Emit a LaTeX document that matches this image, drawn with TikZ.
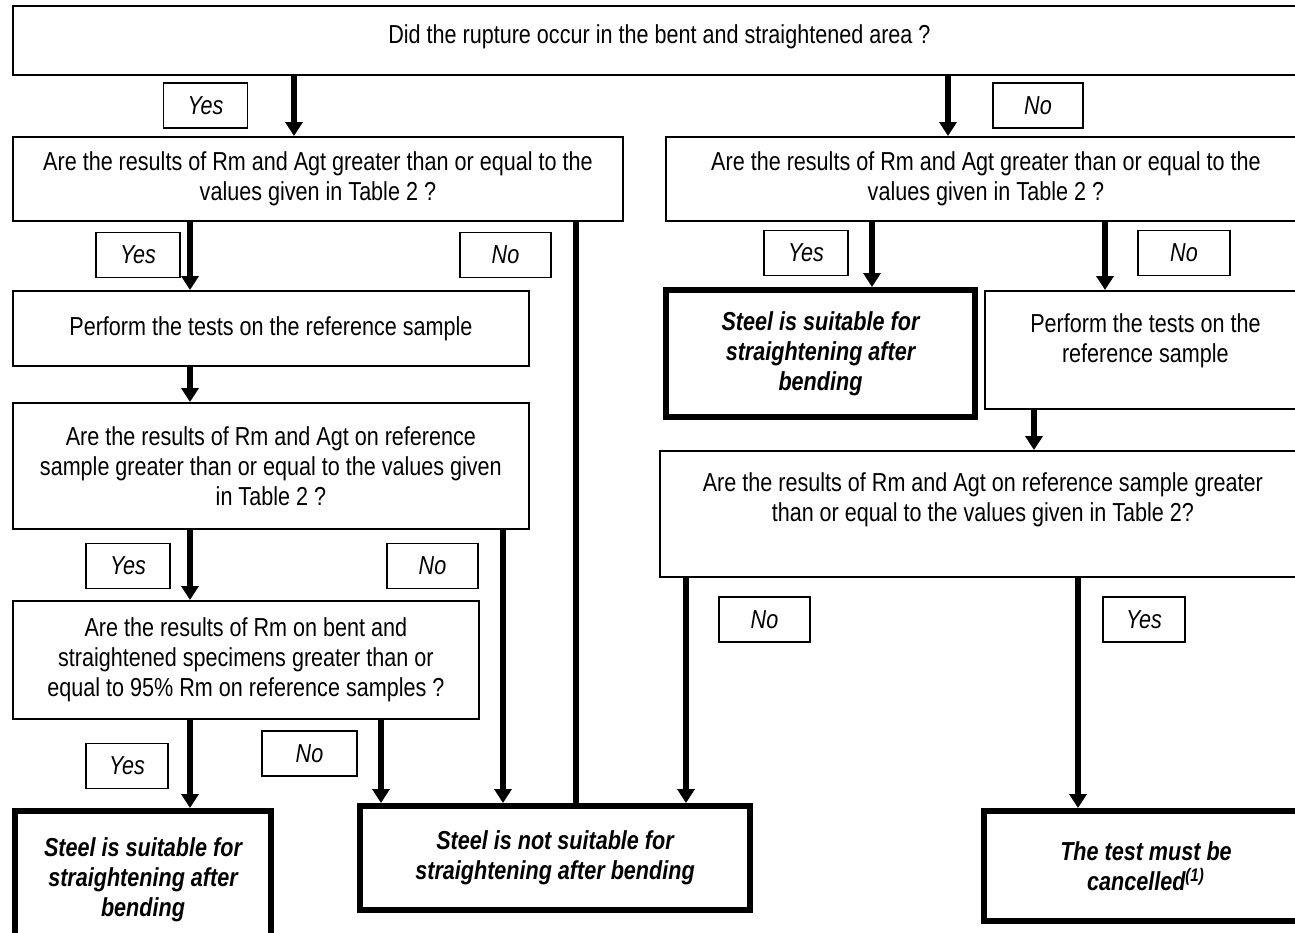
\documentclass[tikz,border=0pt]{standalone}
\usepackage{fontspec}
\setmainfont{Liberation Sans}[FakeStretch=0.83]
\usepackage{tikz}
\usetikzlibrary{arrows.meta, positioning}

\newcommand{\chartfont}{\fontsize{13}{15}\selectfont}

\tikzset{
  box/.style={draw, line width=0.9pt, align=center, inner sep=0pt, anchor=north west},
  endbox/.style={box, line width=3pt, font=\chartfont\bfseries\itshape},
  lbl/.style={draw, line width=0.9pt, font=\chartfont\itshape, minimum width=#1, minimum height=22.5pt, inner sep=0pt},
  lbl/.default=42pt,
  arr/.style={line width=3pt, -{Triangle[length=7pt,width=8.5pt]}},
  link/.style={line width=3pt},
}

\begin{document}
\begin{tikzpicture}[x=0.5pt, y=-0.5pt, font=\chartfont]
  \useasboundingbox (0,0) rectangle (1295,932);
  \clip (0,0) rectangle (1295,932);

  % question boxes
  \node[box, minimum width=646.5pt, minimum height=34.5pt, text depth=6pt] (top) at (12,5)
    {Did the rupture occur in the bent and straightened area ?};
  \node[box, minimum width=305pt, minimum height=42pt] (l1) at (12,136)
    {Are the results of Rm and Agt greater than or equal to the\\values given in Table 2 ?};
  \node[box, minimum width=320pt, minimum height=42pt] (r1) at (665,136)
    {Are the results of Rm and Agt greater than or equal to the\\values given in Table 2 ?};
  \node[box, minimum width=258pt, minimum height=37.5pt] (l2) at (12,290)
    {Perform the tests on the reference sample};
  \node[box, minimum width=258pt, minimum height=63pt] (l3) at (12,402)
    {Are the results of Rm and Agt on reference\\sample greater than or equal to the values given\\in Table 2 ?};
  \node[box, minimum width=233pt, minimum height=59pt] (l4) at (12,600)
    {Are the results of Rm on bent and\\straightened specimens greater than or\\equal to 95\% Rm on reference samples ?};
  \node[box, minimum width=160.5pt, minimum height=59pt, text depth=12pt] (r2) at (984,290)
    {Perform the tests on the\\reference sample};
  \node[box, minimum width=323pt, minimum height=63pt, text depth=17pt] (r3) at (659,450)
    {Are the results of Rm and Agt on reference sample greater\\than or equal to the values given in Table 2?};

  % outcomes
  \node[endbox, minimum width=154.5pt, minimum height=63.5pt] (okR) at (663,287)
    {Steel is suitable for\\straightening after\\bending};
  \node[endbox, minimum width=128pt, minimum height=68.5pt] (okL) at (12,808)
    {Steel is suitable for\\straightening after\\bending};
  \node[endbox, minimum width=195pt, minimum height=52pt] (notok) at (357,803)
    {Steel is not suitable for\\straightening after bending};
  \node[endbox, minimum width=162pt, minimum height=55pt] (cancel) at (981,808)
    {The test must be\\cancelled\textsuperscript{(1)}};

  % yes / no labels
  \node[lbl] (yA) at (205.5,105.5) {Yes};
  \node[lbl=45pt] (nA) at (1038,105.5) {No};
  \node[lbl] (yB) at (138,255) {Yes};
  \node[lbl=45.5pt] (nB) at (505.5,255) {No};
  \node[lbl] (yC) at (806,253) {Yes};
  \node[lbl=46pt] (nC) at (1184,253) {No};
  \node[lbl] (yD) at (128,566) {Yes};
  \node[lbl=45.5pt] (nD) at (432.5,566) {No};
  \node[lbl=41pt] (yE) at (127,766) {Yes};
  \node[lbl=47.5pt] (nE) at (309.5,753.5) {No};
  \node[lbl=45.5pt] (nF) at (764.5,619.5) {No};
  \node[lbl=41pt] (yF) at (1144,619.5) {Yes};

  % connectors
  \draw[arr] (top.south -| 294,0) -- (l1.north -| 294,0);
  \draw[arr] (top.south -| 948,0) -- (r1.north -| 948,0);
  \draw[arr] (l1.south -| 190,0) -- (l2.north -| 190,0);
  \draw[link] (l1.south -| 576,0) -- (notok.north -| 576,0);
  \draw[arr] (l2.south -| 190,0) -- (l3.north -| 190,0);
  \draw[arr] (l3.south -| 190,0) -- (l4.north -| 190,0);
  \draw[arr] (l3.south -| 503,0) -- (notok.north -| 503,0);
  \draw[arr] (l4.south -| 190,0) -- (okL.north -| 190,0);
  \draw[arr] (l4.south -| 381,0) -- (notok.north -| 381,0);
  \draw[arr] (r1.south -| 872,0) -- (okR.north -| 872,0);
  \draw[arr] (r1.south -| 1105,0) -- (r2.north -| 1105,0);
  \draw[arr] (r2.south -| 1034,0) -- (r3.north -| 1034,0);
  \draw[arr] (r3.south -| 686,0) -- (notok.north -| 686,0);
  \draw[arr] (r3.south -| 1078,0) -- (cancel.north -| 1078,0);
\end{tikzpicture}
\end{document}
